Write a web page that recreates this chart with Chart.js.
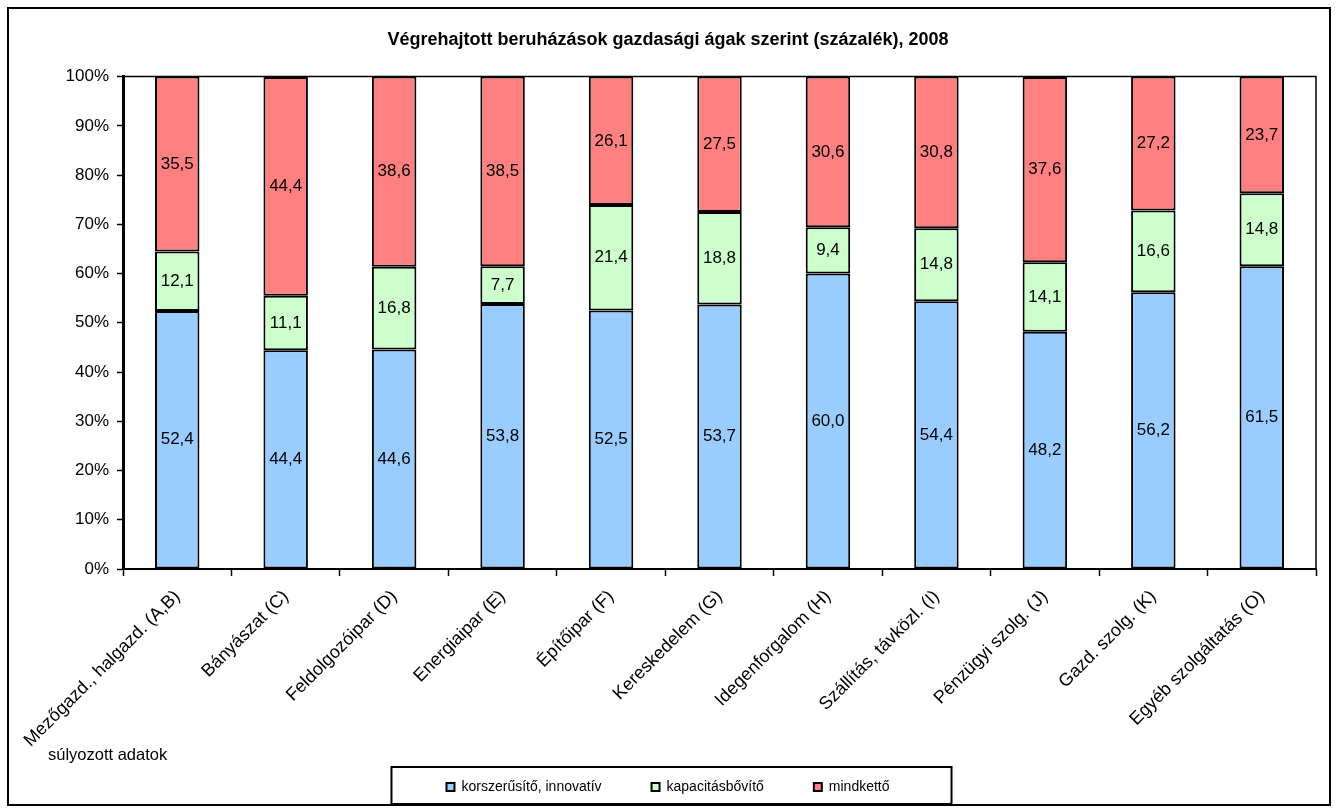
<!DOCTYPE html>
<html>
<head>
<meta charset="utf-8">
<script src="https://cdn.jsdelivr.net/npm/chart.js@4.4.0/dist/chart.umd.min.js"></script>
<style>
  html, body { margin: 0; padding: 0; background: #fff; }
  #wrap { width: 1337px; height: 812px; }
</style>
</head>
<body>
<div id="wrap"><canvas id="investChart" width="1337" height="812"></canvas></div>
<script>
// Data (percent shares by sector, 2008)
const categories = [
    'Mezőgazd., halgazd. (A,B)', 'Bányászat (C)', 'Feldolgozóipar (D)', 'Energiaipar (E)',
    'Építőipar (F)', 'Kereskedelem (G)', 'Idegenforgalom (H)', 'Szállítás, távközl. (I)',
    'Pénzügyi szolg. (J)', 'Gazd. szolg. (K)', 'Egyéb szolgáltatás (O)'
];
const innovative = [52.4, 44.4, 44.6, 53.8, 52.5, 53.7, 60.0, 54.4, 48.2, 56.2, 61.5];
const capacity   = [12.1, 11.1, 16.8, 7.7, 21.4, 18.8, 9.4, 14.8, 14.1, 16.6, 14.8];
const both       = [35.5, 44.4, 38.6, 38.5, 26.1, 27.5, 30.6, 30.8, 37.6, 27.2, 23.7];
const seriesNames = ['korszerűsítő, innovatív', 'kapacitásbővítő', 'mindkettő'];
const yTicks = [0, 10, 20, 30, 40, 50, 60, 70, 80, 90, 100];

const FONT = "'Liberation Sans', Arial, sans-serif";

document.addEventListener('DOMContentLoaded', function() {
    // white page, outer frame, plot frame, note text
    const framePlugin = {
        id: 'frame',
        beforeDraw(chart) {
            // let the long rotated category names run below the axis box
            if (chart.scales.x) chart.scales.x._computeLabelArea = function() { return undefined; };
            const ctx = chart.ctx;
            ctx.save();
            ctx.fillStyle = '#fff';
            ctx.fillRect(0, 0, chart.width, chart.height);
            ctx.restore();
        },
        afterDraw(chart) {
            const ctx = chart.ctx;
            const a = chart.chartArea;
            ctx.save();
            ctx.strokeStyle = '#000';
            ctx.lineWidth = 2;
            ctx.strokeRect(8, 8, chart.width - 15, chart.height - 15);
            ctx.lineWidth = 1.5;
            ctx.beginPath();
            ctx.moveTo(a.left, a.top);
            ctx.lineTo(a.right, a.top);
            ctx.lineTo(a.right, a.bottom);
            ctx.stroke();

            // box round the legend
            const boxes = chart.legend.legendHitBoxes;
            if (boxes && boxes.length) {
                const l = Math.min(...boxes.map(b => b.left)) - 55;
                const r = Math.max(...boxes.map(b => b.left + b.width)) + 62;
                const t = boxes[0].top - 13;
                ctx.lineWidth = 2;
                ctx.strokeRect(l, t, r - l, chart.height - 8 - t);
            }

            ctx.fillStyle = '#000';
            ctx.font = '16.5px ' + FONT;
            ctx.textBaseline = 'middle';
            ctx.fillText('súlyozott adatok', 48, 755);
            ctx.restore();
        }
    };

    // values written in the middle of each segment
    const valueLabels = {
        id: 'valueLabels',
        afterDatasetsDraw(chart) {
            const ctx = chart.ctx;
            ctx.save();
            ctx.font = '17px ' + FONT;
            ctx.fillStyle = '#000';
            ctx.textAlign = 'center';
            ctx.textBaseline = 'middle';
            chart.data.datasets.forEach((ds, di) => {
                chart.getDatasetMeta(di).data.forEach((bar, i) => {
                    const v = ds.data[i];
                    ctx.fillText(v.toFixed(1).replace('.', ','), bar.x, (bar.y + bar.base) / 2);
                });
            });
            ctx.restore();
        }
    };

    const ctx = document.getElementById('investChart').getContext('2d');
    new Chart(ctx, {
        type: 'bar',
        data: {
            labels: categories,
            datasets: [
                { label: seriesNames[0], data: innovative, backgroundColor: '#99CCFF' },
                { label: seriesNames[1], data: capacity, backgroundColor: '#CCFFCC' },
                { label: seriesNames[2], data: both, backgroundColor: '#FF8080' }
            ].map(d => Object.assign(d, {
                borderColor: '#000',
                borderWidth: 2,
                borderSkipped: false,
                categoryPercentage: 1,
                barPercentage: 0.41
            }))
        },
        plugins: [framePlugin, valueLabels],
        options: {
            responsive: false,
            animation: false,
            devicePixelRatio: 1,
            layout: { padding: { left: 20, right: 21, top: 0, bottom: 8 } },
            plugins: {
                title: {
                    display: true,
                    text: 'Végrehajtott beruházások gazdasági ágak szerint (százalék), 2008',
                    color: '#000',
                    font: { family: FONT, size: 18, weight: 'bold' },
                    padding: { top: 29, bottom: 26 }
                },
                legend: {
                    position: 'bottom',
                    labels: {
                        color: '#000',
                        font: { family: FONT, size: 14 },
                        boxWidth: 8,
                        boxHeight: 8,
                        padding: 50
                    }
                },
                tooltip: { enabled: false }
            },
            scales: {
                x: {
                    stacked: true,
                    grid: {
                        offset: true,
                        drawOnChartArea: false,
                        drawTicks: true,
                        tickLength: 7,
                        tickColor: '#000',
                        tickWidth: 1.5
                    },
                    border: { display: true, color: '#000', width: 2 },
                    ticks: {
                        color: '#000',
                        font: { family: FONT, size: 18 },
                        minRotation: 45,
                        maxRotation: 45,
                        autoSkip: false,
                        padding: 10
                    },
                    afterFit(scale) { scale.height = 161; }
                },
                y: {
                    stacked: true,
                    min: 0,
                    max: 100,
                    afterBuildTicks(scale) { scale.ticks = yTicks.map(v => ({ value: v })); },
                    grid: {
                        drawOnChartArea: false,
                        drawTicks: true,
                        tickLength: 6,
                        tickColor: '#000',
                        tickWidth: 1.5
                    },
                    border: { display: true, color: '#000', width: 3 },
                    ticks: {
                        color: '#000',
                        font: { family: FONT, size: 17 },
                        padding: 8,
                        callback: function(value) { return value + '%'; }
                    },
                    afterFit(scale) { scale.width = 103; }
                }
            }
        }
    });
});
</script>
</body>
</html>
